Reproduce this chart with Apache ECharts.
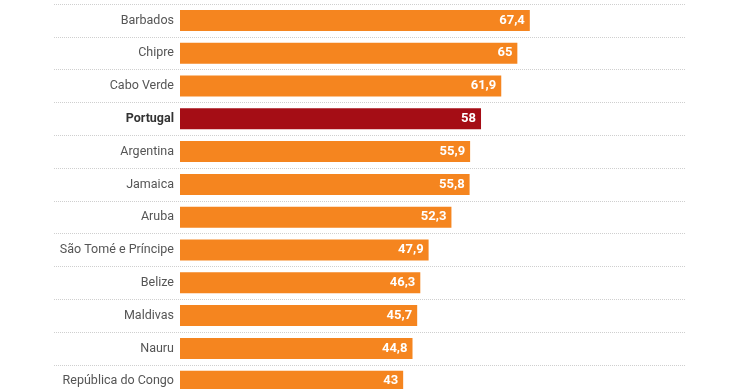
<!DOCTYPE html>
<html><head><meta charset="utf-8">
<script src="https://cdn.jsdelivr.net/npm/echarts@6/dist/echarts.min.js"></script>
<style>html,body{margin:0;padding:0;background:#fff}#c{width:740px;height:389px}</style>
</head><body><div id="c"></div>
<script>
const categories = ['Barbados','Chipre','Cabo Verde','Portugal','Argentina','Jamaica','Aruba','São Tomé e Príncipe','Belize','Maldivas','Nauru','República do Congo'];
const values = [67.4,65,61.9,58,55.9,55.8,52.3,47.9,46.3,45.7,44.8,43];
const highlight = 'Portugal';

const rowH = 32.8;
const gridTop = 4;
const gridH = rowH * categories.length;
const chart = echarts.init(document.getElementById('c'), null, {renderer:'canvas'});
const font = 'Roboto, sans-serif';
chart.setOption({
  animation:false,
  grid:[
    {left:180, top:gridTop, width:519, height:gridH, outerBoundsMode:'none', containLabel:false},
    {left:54, right:54, top:gridTop, height:gridH, outerBoundsMode:'none', containLabel:false}
  ],
  xAxis:[
    {gridIndex:0, type:'value', min:0, max:100, show:false},
    {gridIndex:1, type:'value', min:0, max:100, show:false}
  ],
  yAxis:[
    {gridIndex:0, type:'category', data:categories, inverse:true,
     axisLine:{show:false}, axisTick:{show:false}, splitLine:{show:false},
     axisLabel:{margin:6, fontFamily:font, fontSize:12.5, color:'#555',
       formatter:(v)=> v===highlight ? '{b|'+v+'}' : v,
       rich:{b:{fontFamily:font, fontSize:12.5, fontWeight:'bold', color:'#333'}}}},
    {gridIndex:1, type:'category', data:categories, inverse:true,
     axisLine:{show:false}, axisTick:{show:false}, axisLabel:{show:false},
     splitLine:{show:true, lineStyle:{color:'#cfcfcf', type:[1,1], width:1}}}
  ],
  series:[{
    type:'bar', xAxisIndex:0, yAxisIndex:0, barWidth:21,
    data: values.map((v,i)=>({value:v, itemStyle:{color: categories[i]===highlight ? '#A50D15' : '#F5851F'}})),
    label:{show:true, position:'insideRight', distance:5, color:'#fff', fontFamily:font, fontWeight:'bold', fontSize:13,
      formatter:(p)=> String(p.value).replace('.',',')}
  },{
    type:'bar', xAxisIndex:1, yAxisIndex:1, data:[], silent:true
  }]
});
</script></body></html>
